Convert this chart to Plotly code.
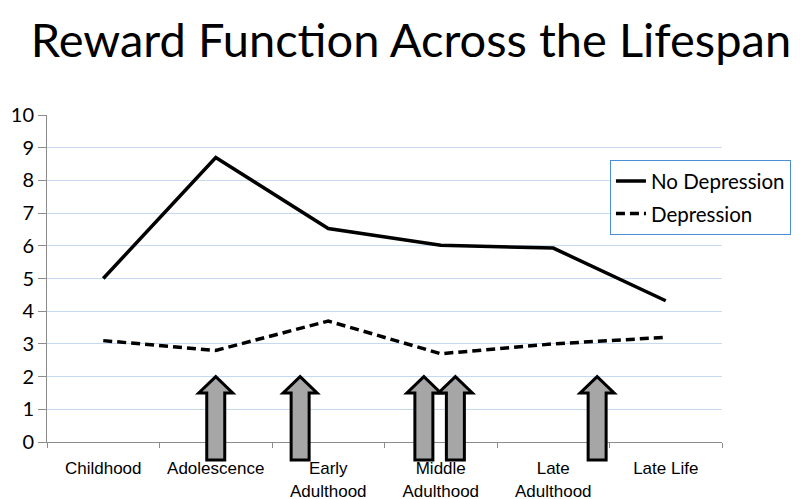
import plotly.graph_objects as go

categories = ["Childhood", "Adolescence", "Early<br>Adulthood", "Middle<br>Adulthood", "Late<br>Adulthood", "Late Life"]
no_depression = [5.0, 8.7, 6.53, 6.02, 5.93, 4.32]
depression = [3.1, 2.8, 3.7, 2.7, 3.0, 3.2]
arrow_positions = [1.0, 1.75, 2.85, 3.13, 4.39]  # in category units
arrow_top = 2.0
arrow_head_base = 1.5
arrow_bottom = -0.55
y_ticks = list(range(0, 11))

x_idx = list(range(len(categories)))
YMAX = 10.0

fig = go.Figure()
fig.add_trace(go.Scatter(x=x_idx, y=no_depression, mode="lines", name="No Depression",
                         line=dict(color="black", width=3.5), legendgroup="a"))
fig.add_trace(go.Scatter(x=x_idx, y=depression, mode="lines", name="Depression",
                         line=dict(color="black", width=3.5, dash="9px,5px"), legendgroup="b"))

shaft_hw = 0.08
head_hw = 0.151
for ax in arrow_positions:
    pts = [
        (ax - shaft_hw, arrow_bottom), (ax - shaft_hw, arrow_head_base),
        (ax - head_hw, arrow_head_base), (ax, arrow_top),
        (ax + head_hw, arrow_head_base), (ax + shaft_hw, arrow_head_base),
        (ax + shaft_hw, arrow_bottom),
    ]
    path = "M " + " L ".join(f"{x},{y / YMAX}" for x, y in pts) + " Z"
    fig.add_shape(type="path", path=path, xref="x", yref="paper",
                  fillcolor="#a6a6a6", line=dict(color="black", width=3), layer="above")

# page has an 8px body margin, so the figure is sized to fit the 800x499 window
W, H = 792, 491
fig.update_layout(
    width=W, height=H,
    margin=dict(l=39, r=78, t=107, b=57, autoexpand=False),
    paper_bgcolor="white", plot_bgcolor="white",
    title=dict(text="Reward Function Across the Lifespan", x=403 / W, xanchor="center",
               y=1 - 33 / H, yanchor="middle", yref="container",
               font=dict(family="Lato", size=47, color="black")),
    legend=dict(x=0.834, y=0.862, xanchor="left", yanchor="top",
                bgcolor="white", bordercolor="#4a8fd6", borderwidth=1,
                font=dict(family="Lato", size=20.5, color="black"),
                tracegroupgap=3, itemwidth=30, entrywidth=188, entrywidthmode="pixels"),
    showlegend=True,
)
fig.update_xaxes(
    range=[-0.5, len(categories) - 0.5], tickmode="array", tickvals=x_idx, ticktext=categories,
    ticks="", showgrid=False, showline=True, linecolor="#8c8c8c", linewidth=1,
    tickfont=dict(family="Liberation Sans", size=17, color="black"), zeroline=False,
    automargin=False, ticklabelstandoff=11,
    minor=dict(tickmode="array", tickvals=[i - 0.5 for i in range(len(categories) + 1)],
               ticks="outside", ticklen=5, tickcolor="#8c8c8c", showgrid=False),
)
fig.update_yaxes(
    range=[0, YMAX], tickmode="array", tickvals=y_ticks, ticks="outside", ticklen=8,
    tickcolor="#8c8c8c", showline=True, linecolor="#8c8c8c", linewidth=1,
    showgrid=True, gridcolor="#c6d9f1", gridwidth=1, zeroline=False, automargin=False,
    tickfont=dict(family="Lato", size=20, color="black"),
)

fig.write_html("out.html")
